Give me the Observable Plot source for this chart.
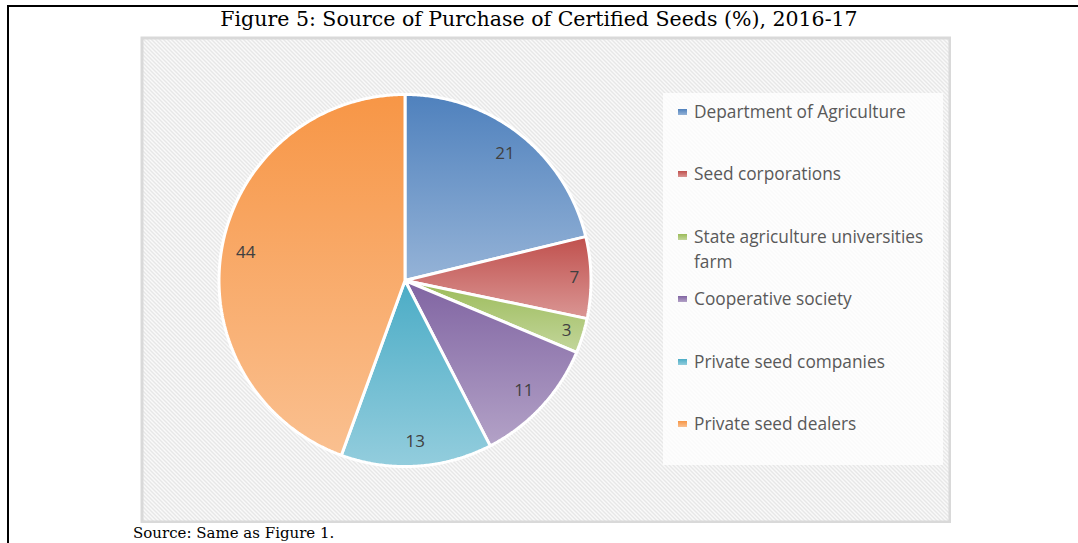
<!DOCTYPE html>
<html>
<head>
<meta charset="utf-8">
<script src="https://cdn.jsdelivr.net/npm/d3@7"></script>
<script src="https://cdn.jsdelivr.net/npm/@observablehq/plot@0.6"></script>
<style>
  html, body { margin: 0; padding: 0; background: #fff; }
  body { width: 1078px; height: 543px; position: relative; overflow: hidden; }
  #frameLines { position: absolute; left: 7px; top: 5px; width: 1080px; height: 560px; border-top: 2px solid #000; border-left: 2px solid #000; }
  #title { position: absolute; left: 0; top: 6px; width: 1078px; text-align: center; font-family: "DejaVu Serif", serif; font-size: 20.5px; line-height: 26px; color: #000; }
  #chart { position: absolute; left: 140px; top: 36px; }
  #legend { position: absolute; left: 663px; top: 93px; width: 280px; height: 372px; background: rgba(255,255,255,0.8); }
  .item { position: absolute; left: 0; width: 280px; font-family: "Open Sans", sans-serif; font-size: 17.3px; line-height: 25px; color: #595959; }
  .sw { position: absolute; left: 15px; top: 10px; width: 9px; height: 6px; }
  .lab { position: absolute; left: 31px; top: 0; width: 246px; }
  #caption { position: absolute; left: 133px; top: 523px; font-family: "DejaVu Serif", serif; font-size: 15px; line-height: 20px; color: #000; }
</style>
</head>
<body>
<div id="frameLines"></div>
<div id="title"></div>
<div id="chart"></div>
<div id="legend"></div>
<div id="caption"></div>
<script>
const titleText = "Figure 5: Source of Purchase of Certified Seeds (%), 2016-17";
const captionText = "Source: Same as Figure 1.";
const categories = ["Department of Agriculture", "Seed corporations", "State agriculture universities farm", "Cooperative society", "Private seed companies", "Private seed dealers"];
const values = [21, 7, 3, 11, 13, 44];
const colorsTop = ["#4F81BD", "#C0504D", "#9BBB59", "#8064A2", "#4BACC6", "#F79646"];
const colorsBottom = ["#95B3D7", "#DA9694", "#C3D69B", "#B3A2C7", "#93CDDD", "#FAC090"];

document.getElementById("title").textContent = titleText;
document.getElementById("caption").textContent = captionText;

const W = 811, H = 487;
const cx = 264.5, cy = 244, R = 186;

const arcs = d3.pie().sort(null).value(d => d.value)(categories.map((c, i) => ({cat: c, value: values[i], i})));

const slicePts = [];
arcs.forEach(a => {
  const id = a.data.i;
  slicePts.push({cat: a.data.cat, fill: `url(#g${id})`, x: cx, y: cy});
  const n = Math.max(2, Math.ceil((a.endAngle - a.startAngle) / (Math.PI / 360)));
  for (let k = 0; k <= n; k++) {
    const t = a.startAngle + (a.endAngle - a.startAngle) * k / n;
    slicePts.push({cat: a.data.cat, fill: `url(#g${id})`, x: cx + R * Math.sin(t), y: cy - R * Math.cos(t)});
  }
  slicePts.push({cat: a.data.cat, fill: `url(#g${id})`, x: cx, y: cy});
});

const labels = arcs.map(a => {
  const m = (a.startAngle + a.endAngle) / 2;
  const rr = R * (a.data.value < 8 ? 0.91 : 0.87);
  return {x: cx + rr * Math.sin(m), y: cy - rr * Math.cos(m), text: String(a.data.value)};
});

const plot = Plot.plot({
  width: W, height: H,
  margin: 0,
  x: {domain: [0, W], range: [0, W], axis: null},
  y: {domain: [0, H], range: [0, H], axis: null},
  color: {type: "identity"},
  marks: [
    Plot.frame({fill: "url(#hatch)", stroke: "#d9d9d9", strokeWidth: 3, inset: 1.5}),
    Plot.line(slicePts, {x: "x", y: "y", z: "cat", fill: "fill", stroke: "#fff", strokeWidth: 3, strokeLinejoin: "miter", curve: "linear"}),
    Plot.text(labels, {x: "x", y: "y", text: "text", fill: "#404040", fontSize: 17, fontFamily: "Open Sans, sans-serif"})
  ]
});

const ns = "http://www.w3.org/2000/svg";
const defs = document.createElementNS(ns, "defs");
let defsHtml = `<pattern id="hatch" patternUnits="userSpaceOnUse" width="4" height="4">
  <rect width="4" height="4" fill="#ffffff"/>
  <path d="M-1,-1 L5,5 M-1,3 L1,5 M3,-1 L5,1" stroke="#dadada" stroke-width="1.2"/>
</pattern>`;
colorsTop.forEach((c, i) => {
  defsHtml += `<linearGradient id="g${i}" x1="0" y1="0" x2="0" y2="1">
    <stop offset="0" stop-color="${c}"/><stop offset="1" stop-color="${colorsBottom[i]}"/></linearGradient>`;
});
defs.innerHTML = defsHtml;
plot.insertBefore(defs, plot.firstChild);
document.getElementById("chart").appendChild(plot);

const legend = document.getElementById("legend");
categories.forEach((c, i) => {
  const item = document.createElement("div");
  item.className = "item";
  item.style.top = (6 + i * 62.4) + "px";
  const sw = document.createElement("div");
  sw.className = "sw";
  sw.style.background = `linear-gradient(${colorsTop[i]}, ${colorsBottom[i]})`;
  const lab = document.createElement("div");
  lab.className = "lab";
  lab.textContent = c;
  item.appendChild(sw);
  item.appendChild(lab);
  legend.appendChild(item);
});
</script>
</body>
</html>
